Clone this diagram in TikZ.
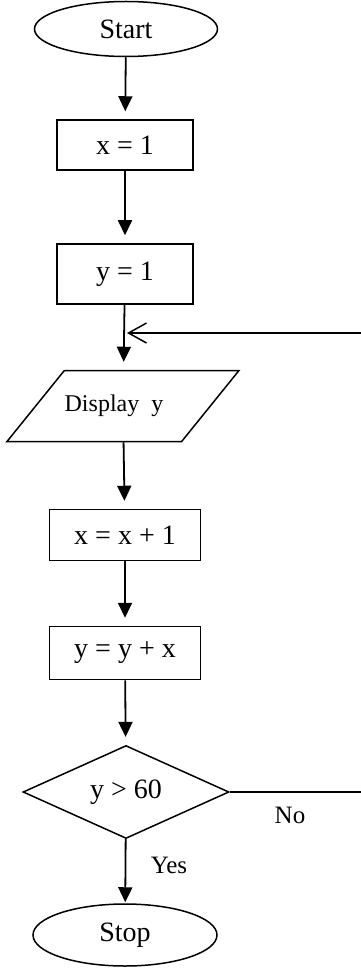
\documentclass[tikz,border=0pt]{standalone}
\usepackage{fontspec}
\setmainfont{Liberation Serif}
\usepackage{tikz}
\usetikzlibrary{shapes.geometric,arrows.meta}

\begin{document}
\begin{tikzpicture}[x=1pt,y=-1pt,
    every node/.style={font=\fontsize{28}{30}\selectfont},
    term/.style={ellipse,draw,line width=1.5pt,inner sep=0pt},
    proc/.style={rectangle,draw,line width=1.5pt,inner sep=0pt},
    flow/.style={line width=1.8pt,-{Triangle[length=15pt,width=14pt]},shorten >=8pt}]

    \useasboundingbox (0,0) rectangle (360,968);

    % boxes
    \node (start) [term,minimum width=183pt,minimum height=55pt] at (126,29) {Start};
    \node (x1) [proc,minimum width=136pt,minimum height=50pt] at (125,145) {x = 1};
    \node (y1) [proc,minimum width=136pt,minimum height=60pt] at (125,274) {y = 1};
    \node (disp) [trapezium,draw,line width=1.5pt,inner xsep=0pt,inner ysep=24.5pt,
        trapezium left angle=51,trapezium right angle=129,
        trapezium stretches body=true,
        minimum width=232pt,minimum height=71pt,
        font=\fontsize{24}{26}\selectfont] at (123,406) {Display~~y\kern18pt\null};
    \node (xx) [proc,minimum width=151pt,minimum height=51pt] at (125,535) {x = x + 1};
    \node (yy) [proc,minimum width=151pt,minimum height=53pt] at (125,653) {y = y + x};
    \node (dec) [diamond,draw,line width=1.5pt,inner sep=0pt,aspect=2.2,
        minimum width=206pt,minimum height=93pt] at (126,792) {y > 60};
    \node (stop) [term,minimum width=184pt,minimum height=62pt] at (125,935) {Stop};

    \node (no) [font=\fontsize{25}{27}\selectfont] at (290,815) {No};
    \node (yes) [font=\fontsize{25}{27}\selectfont] at (169,865) {Yes};

    % loop back
    \coordinate (r1) at (363,792);
    \coordinate (r2) at (363,333);
    \coordinate (j) at (127,333);

    \draw[flow] (start) -- (x1);
    \draw[flow] (x1) -- (y1);
    \draw[flow] (y1) -- (disp);
    \draw[flow] (disp) -- (xx);
    \draw[flow] (xx) -- (yy);
    \draw[flow] (yy) -- (dec);
    \draw[flow,shorten >=1pt] (dec) -- (stop);
    \draw[line width=1.5pt,-{Straight Barb[length=18pt,width=20pt]}]
        (dec.east) -- (r1) -- (r2) -- (j);
    \end{tikzpicture}
\end{document}
